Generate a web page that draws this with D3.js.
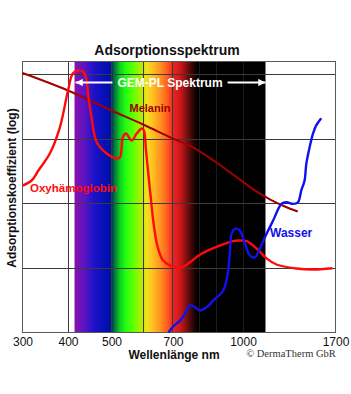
<!DOCTYPE html>
<html><head><meta charset="utf-8">
<script src="https://cdn.jsdelivr.net/npm/d3@7"></script>
<style>body{margin:0;background:#fff}svg{display:block;font-family:"Liberation Sans",Arial,sans-serif}</style>
</head><body><svg id="c" width="351" height="394"></svg>
<script>
// ---- data ----
const wavelengthTicks = [300, 400, 500, 700, 1000, 1700];
const gridWavelengths = [400, 500, 600, 700, 800, 900, 1000];
const axisKnotsNm = [300, 400, 500, 600, 700, 800, 900, 1000, 1700];
const yGridValues = [0.01, 0.1, 1, 10];
const gemRange = [415, 1170];
const spectrumNm = [415, 438, 460, 492, 500, 506, 527, 545, 575, 600, 612, 632, 657, 683, 700, 727, 750, 773, 795, 1170];
const spectrumColors = ['#8a10ac','#5c14c4','#1c12c8','#0010b0','#001890','#006040','#10d020','#20ff10','#70ff00','#c8e800','#f2e020','#ffc020','#ff9420','#ff5820','#e82424','#d01818','#861010','#380808','#000000','#000000'];

const oxyNm  = [300,320,335,360,382,400,411,423,434,441,447,454,466,489,516,527,536,546,564,580,596,603,610,620,627,634,646,657,667,690,714,735,765,815,911,961,988,1028,1103,1178,1253,1404,1527,1677];
const oxyVal = [0.19,0.228,0.326,0.598,1.51,5.67,10.4,11.6,11.3,9.12,4.47,2.19,0.895,0.598,0.5,0.524,1.07,1.22,0.951,1.22,1.46,1.36,0.666,0.228,0.1115,0.0546,0.024,0.0162,0.0131,0.0109,0.0101,0.0102,0.0123,0.0168,0.0223,0.0262,0.0267,0.0261,0.0201,0.0141,0.01135,0.00984,0.00948,0.00994];

const melNm  = [300,400,500,600,700,785,889,977,1090,1203,1316,1414];
const melVal = [10.6,5.67,2.78,1.685,1.02,0.715,0.449,0.254,0.16,0.116,0.09,0.0753];

const watNm  = [685,701,727,746,765,785,805,843,879,924,943,950,956,969,988,1015,1053,1090,1115,1166,1228,1291,1329,1378,1416,1441,1466,1479,1504,1529,1554,1592];
const watVal = [0.001,0.00124,0.00153,0.00195,0.00262,0.00247,0.00219,0.00247,0.00313,0.00448,0.00916,0.0187,0.034,0.0406,0.0382,0.0238,0.0156,0.0147,0.0176,0.0301,0.0546,0.0991,0.105,0.0991,0.105,0.1595,0.228,0.414,0.749,1.21,1.63,2.11];

// ---- layout ----
const svg = d3.select('#c');
const L = 22.5, R = 335.5, T = 61.5, B = 332.5;
const W = R - L;
const knotFrac = [0, 0.1454, 0.2843, 0.385, 0.4808, 0.564, 0.6214, 0.7045, 1];
const x = d3.scaleLinear().domain(axisKnotsNm).range(knotFrac.map(f => L + f * W));
const y = d3.scaleLog().domain([0.001, 16]).range([B, T]);

// spectrum gradient
const defs = svg.append('defs');
const g0 = x(gemRange[0]), g1 = x(gemRange[1]);
const grad = defs.append('linearGradient').attr('id', 'spec')
  .attr('gradientUnits', 'userSpaceOnUse').attr('x1', g0).attr('x2', g1).attr('y1', 0).attr('y2', 0);
spectrumNm.forEach((nm, i) => grad.append('stop').attr('offset', (x(nm) - g0) / (g1 - g0)).attr('stop-color', spectrumColors[i]));
svg.append('rect').attr('x', g0).attr('y', T).attr('width', g1 - g0).attr('height', B - T).attr('fill', 'url(#spec)');

// grid
const grid = svg.append('g').attr('shape-rendering', 'crispEdges');
grid.selectAll('line.v').data(gridWavelengths).join('line')
  .attr('x1', d => x(d)).attr('x2', d => x(d)).attr('y1', T).attr('y2', B)
  .attr('stroke', d => d >= 800 ? '#1c1c1c' : '#3a3a3a').attr('stroke-width', 1);
grid.selectAll('line.h').data(yGridValues).join('line')
  .attr('x1', L).attr('x2', R).attr('y1', d => y(d)).attr('y2', d => y(d))
  .attr('stroke', '#3a3a3a').attr('stroke-width', 1);
svg.append('rect').attr('x', L).attr('y', T).attr('width', W).attr('height', B - T)
  .attr('fill', 'none').attr('stroke', '#5a5a5a').attr('stroke-width', 1).attr('shape-rendering', 'crispEdges');

// curves
const zip = (a, b) => a.map((v, i) => [v, b[i]]);
const line = d3.line().x(d => x(d[0])).y(d => y(d[1])).curve(d3.curveCatmullRom.alpha(0.5));
const smooth = d3.line().x(d => x(d[0])).y(d => y(d[1])).curve(d3.curveMonotoneX);
svg.append('path').attr('d', smooth(zip(melNm, melVal))).attr('fill', 'none').attr('stroke', '#a00000').attr('stroke-width', 2);
svg.append('path').attr('d', line(zip(oxyNm, oxyVal))).attr('fill', 'none').attr('stroke', '#ff0a0a').attr('stroke-width', 2.4);
svg.append('path').attr('d', line(zip(watNm, watVal))).attr('fill', 'none').attr('stroke', '#1010f0').attr('stroke-width', 2.4);

// series labels
svg.append('text').attr('x', 150).attr('y', 112).attr('text-anchor', 'middle').attr('font-weight', 'bold').attr('font-size', 11).attr('fill', '#a00000').text('Melanin');
svg.append('text').attr('x', 30).attr('y', 192).attr('font-weight', 'bold').attr('font-size', 11.5).attr('fill', '#ff0a0a').text('Oxyhämoglobin');
svg.append('text').attr('x', 270).attr('y', 237).attr('font-weight', 'bold').attr('font-size', 12).attr('fill', '#1010f0').text('Wasser');

// GEM-PL label with arrows
const gx = (g0 + g1) / 2, gy = 82.5;
const gt = svg.append('text').attr('x', gx).attr('y', gy + 4.3).attr('text-anchor', 'middle')
  .attr('font-weight', 'bold').attr('font-size', 12).attr('fill', '#fff').text('GEM-PL Spektrum');
const tw = gt.node().getComputedTextLength();
defs.append('marker').attr('id', 'ah').attr('viewBox', '0 0 10 10').attr('refX', 10).attr('refY', 5)
  .attr('markerWidth', 4.2).attr('markerHeight', 3.6).attr('markerUnits', 'strokeWidth').attr('orient', 'auto')
  .append('path').attr('d', 'M0,0L10,5L0,10Z').attr('fill', '#fff');
svg.append('line').attr('x1', gx - tw / 2 - 5).attr('x2', g0 + 1).attr('y1', gy).attr('y2', gy)
  .attr('stroke', '#fff').attr('stroke-width', 2).attr('marker-end', 'url(#ah)');
svg.append('line').attr('x1', gx + tw / 2 + 5).attr('x2', g1).attr('y1', gy).attr('y2', gy)
  .attr('stroke', '#fff').attr('stroke-width', 2).attr('marker-end', 'url(#ah)');

// x axis
const ax = svg.append('g').attr('transform', `translate(0,${B})`)
  .call(d3.axisBottom(x).tickValues(wavelengthTicks).tickSize(0).tickPadding(5).tickFormat(d3.format('d')));
ax.select('.domain').remove();
ax.selectAll('text').attr('font-size', 12).attr('fill', '#111').attr('font-family', '"Liberation Sans",Arial,sans-serif');

// titles
svg.append('text').attr('x', 167).attr('y', 55).attr('text-anchor', 'middle').attr('font-weight', 'bold').attr('font-size', 14).attr('fill', '#111').text('Adsorptionsspektrum');
svg.append('text').attr('x', 174).attr('y', 359).attr('text-anchor', 'middle').attr('font-weight', 'bold').attr('font-size', 12).attr('fill', '#111').text('Wellenlänge nm');
svg.append('text').attr('transform', 'translate(16,188) rotate(-90)').attr('text-anchor', 'middle').attr('font-weight', 'bold').attr('font-size', 12).attr('fill', '#111').text('Adsorptionskoeffizient (log)');
svg.append('text').attr('x', 291).attr('y', 357).attr('text-anchor', 'middle').attr('font-family', '"Liberation Serif","Times New Roman",serif').attr('font-size', 10.5).attr('fill', '#333').text('© DermaTherm GbR');
</script></body></html>
